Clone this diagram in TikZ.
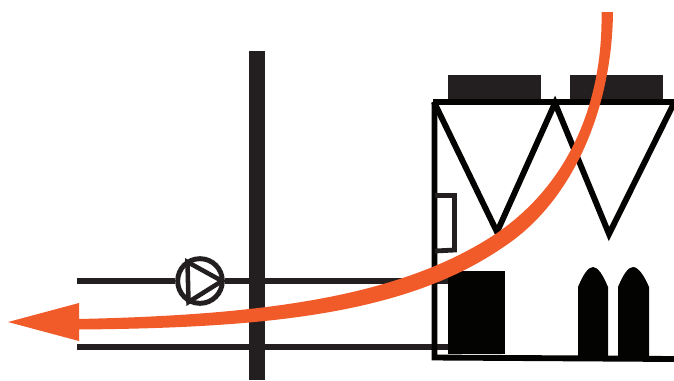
\documentclass[tikz,border=0pt]{standalone}
\definecolor{ink}{HTML}{231F20}
\definecolor{flow}{HTML}{F15A29}
\definecolor{solid}{HTML}{030302}
\tikzset{
  pipe/.style={draw=ink,line width=3.9pt},
  unitline/.style={draw=solid,line width=4.4pt,line join=miter},
  fanbox/.style={fill=ink,draw=none},
  blackfill/.style={fill=solid,draw=none},
  pumpbody/.style={circle,draw=ink,line width=3.7pt,minimum size=33.5pt,inner sep=0pt,fill=white},
}
\begin{document}
\begin{tikzpicture}[x=0.75pt,y=-0.75pt]
\useasboundingbox (0,0) rectangle (674,380);
% pipes
\node[pumpbody] (pump) at (200,281) {};
\coordinate (inL) at (77,281);
\coordinate (inR) at (448,281);
\coordinate (retL) at (77,347);
\coordinate (retR) at (448,347);
\draw[pipe] (inL) -- (pump);
\draw[pipe] (pump) -- (inR);
\draw[pipe] (retL) -- (retR);
% pump triangle
\draw[draw=ink,line width=3.4pt,line join=miter] (187.5,262) -- (222,281) -- (188.5,302) -- cycle;
% wall
\fill[ink] (249,51) rectangle (265,380);
% unit
\fill[fanbox] (448,75) rectangle (541,103);
\fill[fanbox] (570,75) rectangle (663,103);
\draw[unitline] (674,102) -- (433,102);
\draw[unitline] (434.5,102) -- (434.5,357.5) -- (674,359);
\draw[unitline] (434,102) -- (497,232) -- (555,103) -- (609,234) -- (674,103);
\draw[draw=ink,line width=3.6pt] (435,195.5) -- (454.5,195.5) -- (454.5,250) -- (435,251);
\fill[blackfill] (448,271) rectangle (505,354);
\fill[blackfill] (578,358) -- (578,287) .. controls (583,275) and (588,267) .. (593,267) .. controls (598,267) and (603,275) .. (608,287) -- (608,358) -- cycle;
\fill[blackfill] (618,358) -- (618,287) .. controls (623,275) and (628,267) .. (633,267) .. controls (638,267) and (644,275) .. (649,287) -- (649,358) -- cycle;
% flow, slightly fuller in the middle of its run
\fill[flow] (601.5,12) .. controls (603,95) and (574,180) .. (497,233)
  .. controls (400,298) and (260,315) .. (78,319)
  -- (78,329.5)
  .. controls (262,328) and (404,315) .. (502,248)
  .. controls (572,203) and (612,110) .. (613,12) -- cycle;
\fill[flow] (8,322) -- (79,303) -- (79,341) -- cycle;
\end{tikzpicture}
\end{document}
